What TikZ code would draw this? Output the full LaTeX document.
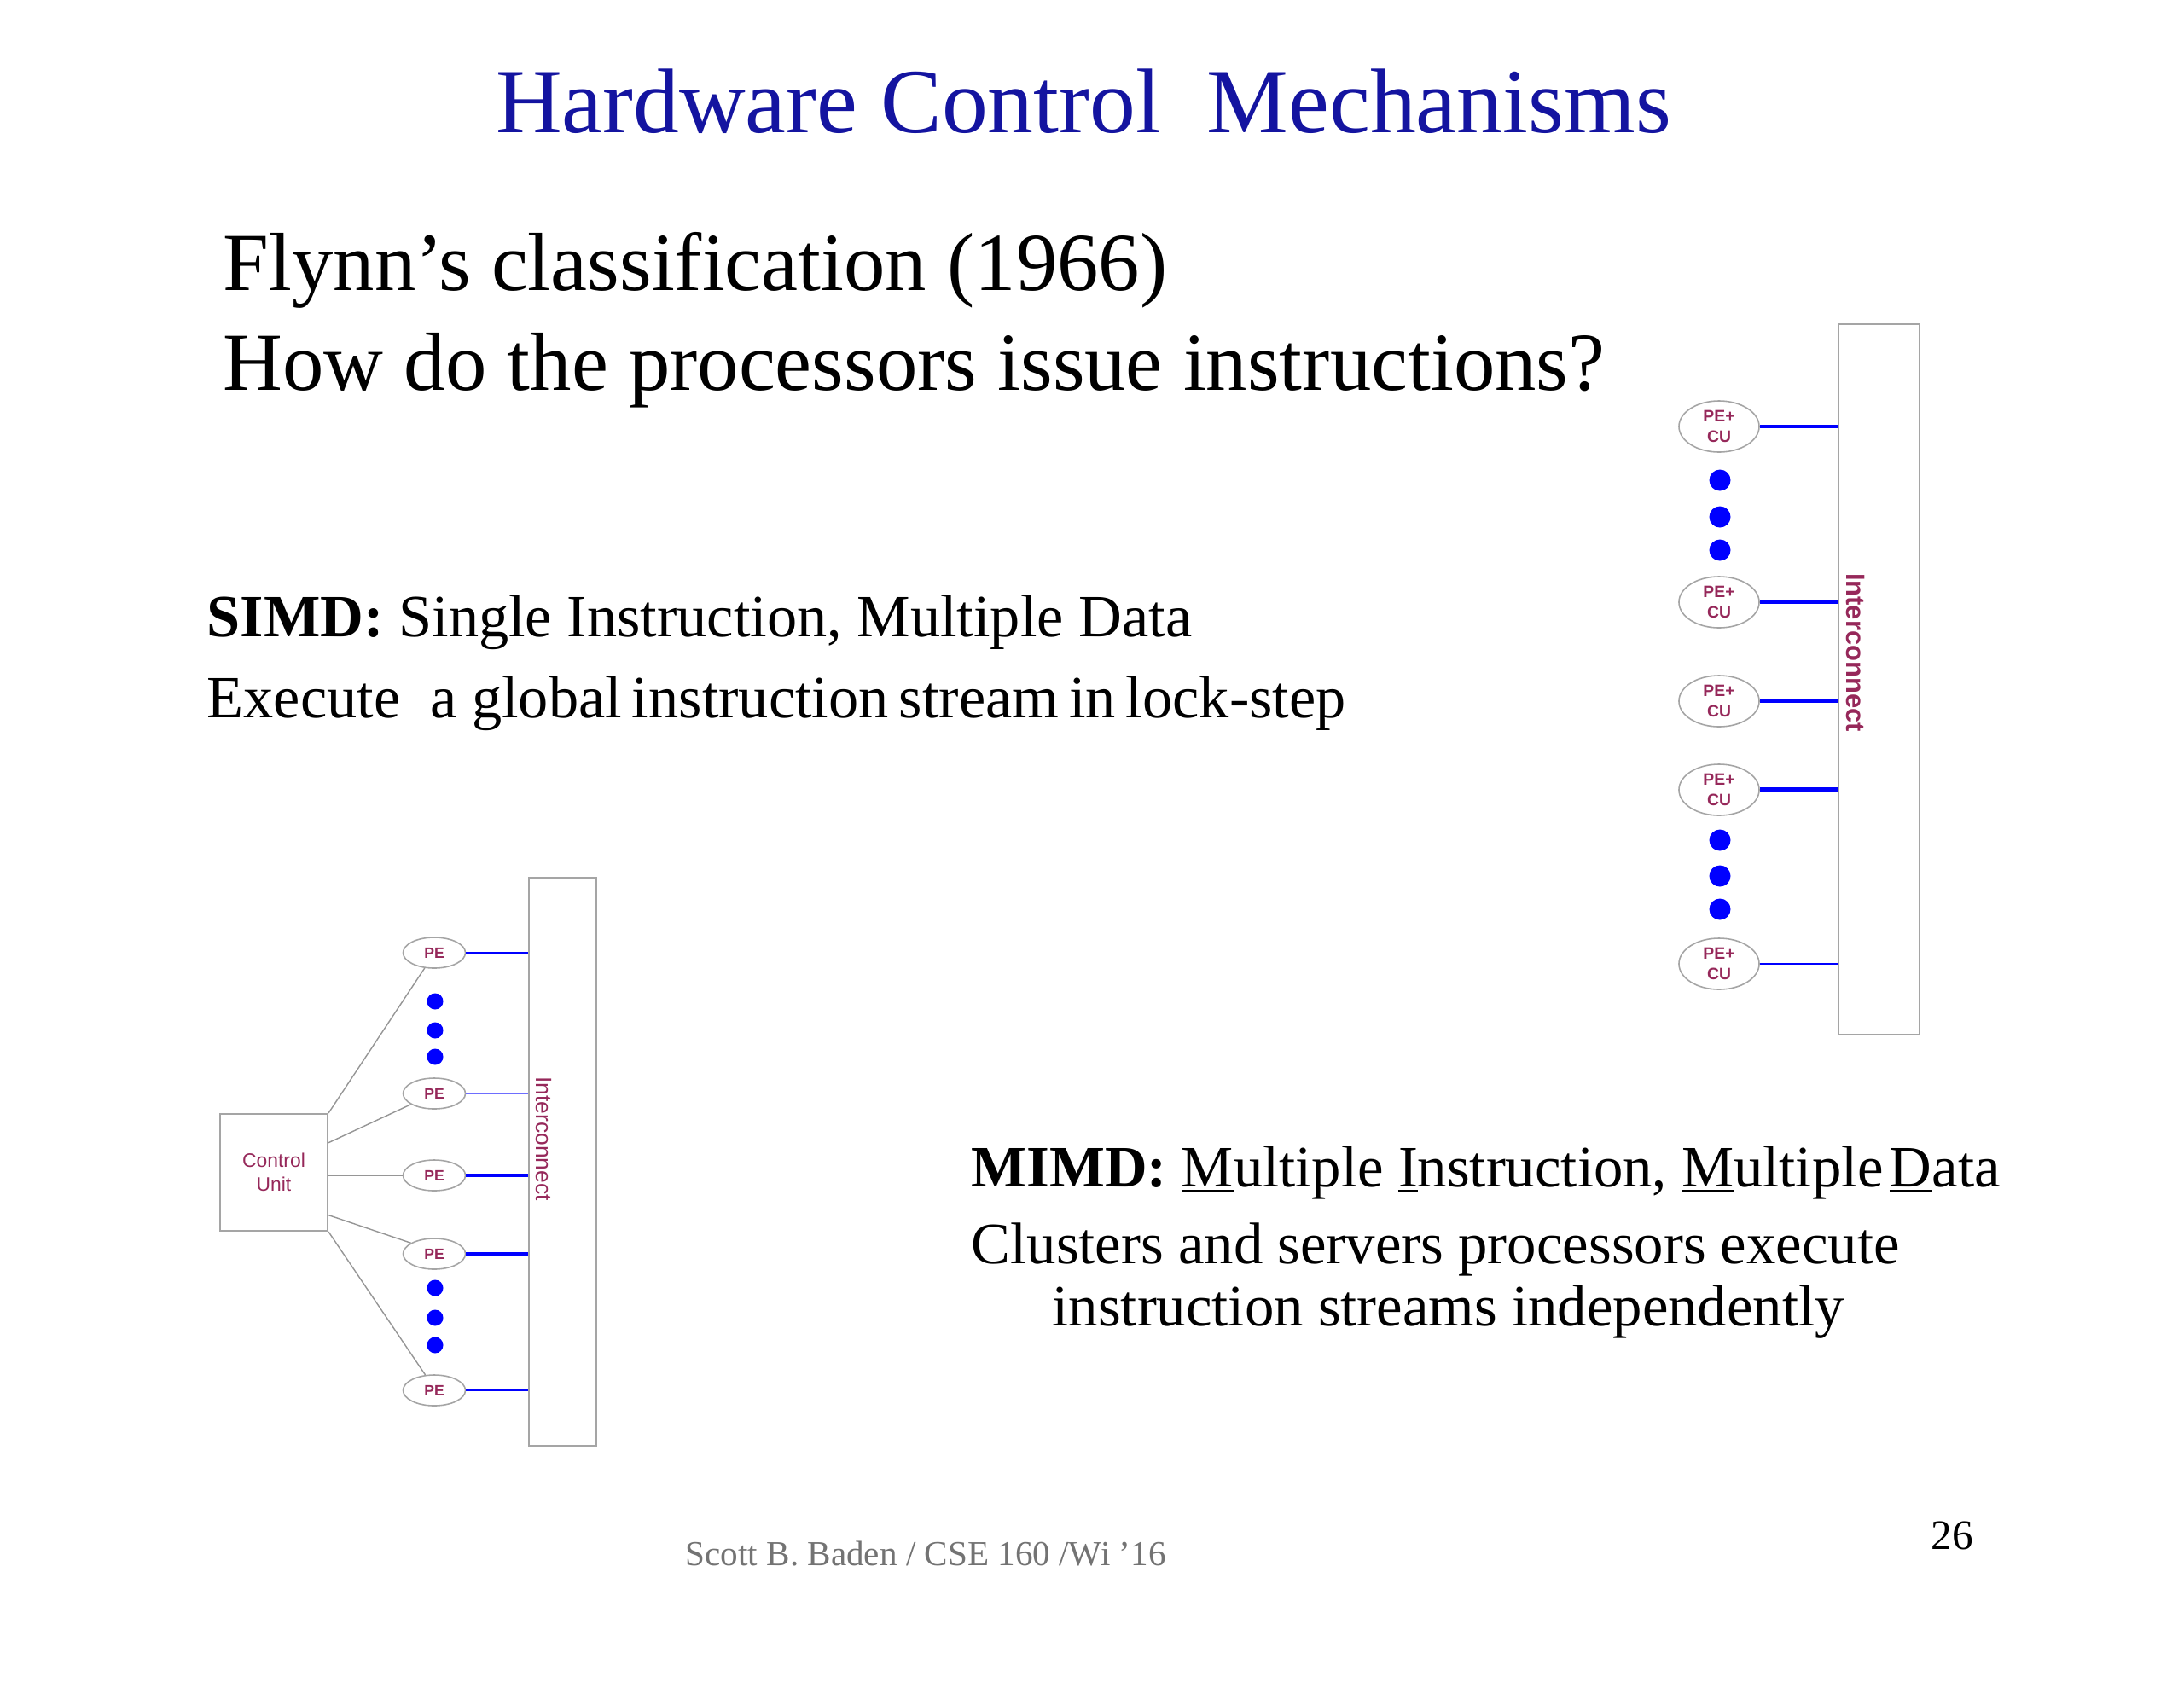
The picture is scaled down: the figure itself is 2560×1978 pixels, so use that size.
\documentclass[tikz,border=0pt]{standalone}
\usepackage{fontspec}
\setmainfont{Liberation Serif}
\setsansfont{Liberation Sans}
\usetikzlibrary{shapes.geometric,calc}
\definecolor{titleblue}{RGB}{20,20,160}
\definecolor{lab}{RGB}{150,40,90}
\definecolor{boxgray}{RGB}{165,165,165}
\definecolor{wiregray}{RGB}{150,150,150}
\definecolor{foot}{RGB}{115,115,115}
\definecolor{lightblue}{RGB}{110,110,255}
\tikzset{
  pe/.style={ellipse, draw=boxgray, line width=0.45pt, inner sep=0pt,
    minimum width=0.73cm, minimum height=0.36cm, text=lab,
    font=\sffamily\bfseries\fontsize{5}{6}\selectfont},
  pecu/.style={ellipse, draw=boxgray, line width=0.45pt, inner sep=0pt,
    minimum width=0.94cm, minimum height=0.60cm, text=lab, align=center,
    font=\sffamily\bfseries\fontsize{5.5}{7}\selectfont},
  ibox/.style={rectangle, draw=boxgray, line width=0.6pt, inner sep=0pt},
  dotb/.style={circle, fill=blue, inner sep=0pt},
  wire/.style={draw=wiregray, line width=0.4pt},
  link/.style={draw=blue, line width=0.5pt},
  txt/.style={anchor=base west, inner sep=0pt},
  bigtext/.style={txt, font=\fontsize{27.5}{30}\selectfont},
  midtext/.style={txt, font=\fontsize{20}{24}\selectfont},
  mimdtext/.style={txt, font=\fontsize{19.55}{24}\selectfont},
}
\begin{document}
\begin{tikzpicture}[x=0.01cm, y=-0.01cm]
\path[use as bounding box, fill=white] (0,0) rectangle (2560,1978);

% Title and texts
\node[anchor=base, inner sep=0pt, text=titleblue, font=\fontsize{30.6}{36}\selectfont] (title) at (1270,155) {Hardware Control\ \ Mechanisms};
\node[bigtext] (flynn) at (261,340) {Flynn’s classification (1966)};
\node[bigtext] (how) at (261,457) {How do the processors issue instructions?};
\node[midtext] (simd) at (242,746) {\textbf{SIMD:} Single Instruction, Multiple Data};
\node[midtext] (exec) at (242,841) {Execute\ \ a \spaceskip=0.17em global instruction stream in lock-step};
\node[mimdtext] (mimd) at (1138,1391) {\textbf{MIMD:} \underline{M}ultiple \underline{I}nstruction, \underline{M}ultiple\hspace{0.1em}\underline{D}ata};
\node[mimdtext] (clus) at (1138,1481) {Clusters and servers processors execute};
\node[mimdtext] (inst) at (1233,1554) {instruction streams independently};
\node[txt, text=foot, font=\fontsize{11.7}{14}\selectfont] (foot) at (803,1835) {Scott B. Baden / CSE 160 /Wi ’16};
\node[txt, font=\fontsize{14}{16}\selectfont] (page) at (2263,1816) {26};

% SIMD diagram
\node[ibox, minimum width=1.26cm, minimum height=1.37cm, align=center, text=lab,
  font=\sffamily\fontsize{6.5}{8}\selectfont] (cu) at (321,1374.5) {Control\\Unit};
\node[ibox, minimum width=0.79cm, minimum height=6.66cm] (ic) at (659.5,1362) {};
\node[rotate=-90, text=lab, font=\sffamily\fontsize{7.5}{9}\selectfont, inner sep=0pt] (icl) at (637,1335) {Interconnect};
\node[pe] (p1) at (509,1117) {PE};
\node[pe] (p2) at (509,1282) {PE};
\node[pe] (p3) at (509,1378) {PE};
\node[pe] (p4) at (509,1470) {PE};
\node[pe] (p5) at (509,1630) {PE};
\foreach \n/\y in {a1/1174,a2/1208,a3/1239,b1/1510,b2/1545,b3/1577}
  \node[dotb, minimum size=0.19cm] (d\n) at (510,\y) {};
\draw[wire] (cu.north east) -- (p1.238);
\draw[wire] ($(cu.north east)!0.25!(cu.south east)$) -- (p2.205);
\draw[wire] (p3.west -| cu.east) -- (p3.west);
\draw[wire] ($(cu.north east)!0.86!(cu.south east)$) -- (p4.155);
\draw[wire] (cu.south east) -- (p5.120);
\draw[link] (p1.east) -- (p1.east -| ic.west);
\draw[link, draw=lightblue] (p2.east) -- (p2.east -| ic.west);
\draw[link, line width=1.3pt] (p3.east) -- (p3.east -| ic.west);
\draw[link, line width=1.2pt] (p4.east) -- (p4.east -| ic.west);
\draw[link] (p5.east) -- (p5.east -| ic.west);

% MIMD diagram
\node[ibox, minimum width=0.95cm, minimum height=8.33cm] (mic) at (2202.5,796.5) {};
\node[rotate=-90, text=lab, font=\sffamily\bfseries\fontsize{8.8}{11}\selectfont, inner sep=0pt] (micl) at (2175,765) {Interconnect};
\node[pecu] (m1) at (2015,500) {PE+\\CU};
\node[pecu] (m2) at (2015,706) {PE+\\CU};
\node[pecu] (m3) at (2015,822) {PE+\\CU};
\node[pecu] (m4) at (2015,926) {PE+\\CU};
\node[pecu] (m5) at (2015,1130) {PE+\\CU};
\foreach \n/\y in {a1/563,a2/606,a3/645,b1/985,b2/1027,b3/1066}
  \node[dotb, minimum size=0.25cm] (md\n) at (2016,\y) {};
\draw[link, line width=1.1pt] (m1.east) -- (m1.east -| mic.west);
\draw[link, line width=1.1pt] (m2.east) -- (m2.east -| mic.west);
\draw[link, line width=1.3pt] (m3.east) -- (m3.east -| mic.west);
\draw[link, line width=1.5pt] (m4.east) -- (m4.east -| mic.west);
\draw[link, line width=0.6pt] (m5.east) -- (m5.east -| mic.west);
\end{tikzpicture}
\end{document}
